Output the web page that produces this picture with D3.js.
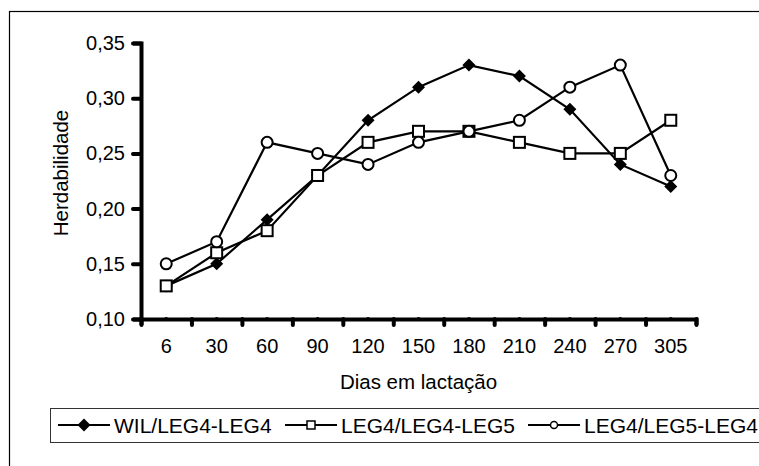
<!DOCTYPE html>
<html>
<head>
<meta charset="utf-8">
<script src="https://cdn.jsdelivr.net/npm/d3@7"></script>
<style>
  body { margin: 0; background: #fff; }
  svg text { font-family: "Liberation Sans", Arial, sans-serif; fill: #000; }
</style>
</head>
<body>
<div id="chart"></div>
<script>
// data
var dias = ["6", "30", "60", "90", "120", "150", "180", "210", "240", "270", "305"];
var wil = [0.13, 0.15, 0.19, 0.23, 0.28, 0.31, 0.33, 0.32, 0.29, 0.24, 0.22];
var leg4leg5 = [0.13, 0.16, 0.18, 0.23, 0.26, 0.27, 0.27, 0.26, 0.25, 0.25, 0.28];
var leg5leg4 = [0.15, 0.17, 0.26, 0.25, 0.24, 0.26, 0.27, 0.28, 0.31, 0.33, 0.23];
var yTicks = [0.10, 0.15, 0.20, 0.25, 0.30, 0.35];
var seriesNames = ["WIL/LEG4-LEG4", "LEG4/LEG4-LEG5", "LEG4/LEG5-LEG4"];

var series = [
  {name: seriesNames[0], values: wil, marker: "diamond"},
  {name: seriesNames[1], values: leg4leg5, marker: "square"},
  {name: seriesNames[2], values: leg5leg4, marker: "circle"}
];

var W = 759, H = 466;
var margin = {top: 43, left: 141};
var width = 555, height = 276;

var svg = d3.select("#chart").append("svg")
  .attr("width", W)
  .attr("height", H);

// outer frame
svg.append("rect")
  .attr("x", 9.5).attr("y", 11.5)
  .attr("width", 800).attr("height", 500)
  .attr("fill", "none").attr("stroke", "#000").attr("stroke-width", 1.2);

var g = svg.append("g")
  .attr("transform", "translate(" + margin.left + "," + margin.top + ")");

var x = d3.scaleBand().domain(dias).range([0, width]);
var xEdge = d3.scaleLinear().domain([0, dias.length]).range([0, width]);
var y = d3.scaleLinear().domain([0.10, 0.35]).range([height, 0]);

var comma = d3.formatLocale({decimal: ",", thousands: ".", grouping: [3], currency: ["", ""]}).format(".2f");

// y axis
var yAxisG = g.append("g")
  .call(d3.axisLeft(y).tickValues(yTicks).tickSize(8).tickPadding(8).tickFormat(comma));
// x axis: ticks at category edges, labels at centres
var xTickG = g.append("g")
  .attr("transform", "translate(0," + height + ")")
  .call(d3.axisBottom(xEdge).ticks(dias.length).tickSize(6).tickFormat(""));
var xLabG = g.append("g")
  .attr("transform", "translate(0," + height + ")")
  .call(d3.axisBottom(x).tickSize(0).tickPadding(20));

[yAxisG, xTickG, xLabG].forEach(function(a) {
  a.selectAll("path.domain").attr("stroke", "#000").attr("stroke-width", 4);
  a.selectAll(".tick line").attr("stroke", "#000").attr("stroke-width", 4).attr("stroke-linecap", "round");
  a.selectAll("text").attr("font-size", 20).attr("fill", "#000")
    .style("font-family", "'Liberation Sans', Arial, sans-serif");
});
xLabG.select("path.domain").remove();

// axis titles
g.append("text")
  .attr("x", width / 2).attr("y", height + 70)
  .attr("text-anchor", "middle").attr("font-size", 20.5)
  .text("Dias em lactação");
g.append("text")
  .attr("transform", "translate(" + (-73) + "," + (height / 2 - 8) + ") rotate(-90)")
  .attr("text-anchor", "middle").attr("font-size", 20.5)
  .text("Herdabilidade");

var line = d3.line()
  .x(function(d, i) { return x(dias[i]) + x.bandwidth() / 2; })
  .y(function(d) { return y(d); });

function drawMarker(sel, type) {
  if (type === "diamond") {
    sel.append("path").attr("d", "M0,-6.5L6.5,0L0,6.5L-6.5,0Z").attr("fill", "#000");
  } else if (type === "square") {
    sel.append("rect").attr("x", -5.5).attr("y", -5.5).attr("width", 11).attr("height", 11)
      .attr("fill", "#fff").attr("stroke", "#000").attr("stroke-width", 2);
  } else {
    sel.append("circle").attr("r", 5.5)
      .attr("fill", "#fff").attr("stroke", "#000").attr("stroke-width", 2);
  }
}

series.forEach(function(s) {
  g.append("path")
    .datum(s.values)
    .attr("fill", "none").attr("stroke", "#000").attr("stroke-width", 2.2)
    .attr("d", line);
});
series.forEach(function(s) {
  g.selectAll(null)
    .data(s.values)
    .enter().append("g")
    .attr("transform", function(d, i) {
      return "translate(" + (x(dias[i]) + x.bandwidth() / 2) + "," + y(d) + ")";
    })
    .each(function() { drawMarker(d3.select(this), s.marker); });
});

// legend
var legend = svg.append("g").attr("transform", "translate(50,408)");
legend.append("rect")
  .attr("x", 0.5).attr("y", 0.5).attr("width", 760).attr("height", 34)
  .attr("fill", "none").attr("stroke", "#333").attr("stroke-width", 1);
var legX = [8, 235, 478];
series.forEach(function(s, i) {
  var item = legend.append("g").attr("transform", "translate(" + legX[i] + ",17)");
  item.append("line").attr("x1", 0).attr("x2", 52).attr("y1", 0).attr("y2", 0)
    .attr("stroke", "#000").attr("stroke-width", 2);
  var m = item.append("g").attr("transform", "translate(26,0)");
  if (s.marker === "diamond") {
    m.append("path").attr("d", "M0,-6.5L6.5,0L0,6.5L-6.5,0Z").attr("fill", "#000");
  } else if (s.marker === "square") {
    m.append("rect").attr("x", -4).attr("y", -4).attr("width", 8).attr("height", 8)
      .attr("fill", "#fff").attr("stroke", "#000").attr("stroke-width", 1.5);
  } else {
    m.append("circle").attr("r", 3.5).attr("fill", "#fff").attr("stroke", "#000").attr("stroke-width", 1.5);
  }
  item.append("text").attr("x", 56).attr("y", 7.5).attr("font-size", 21).text(s.name);
});
</script>
</body>
</html>
